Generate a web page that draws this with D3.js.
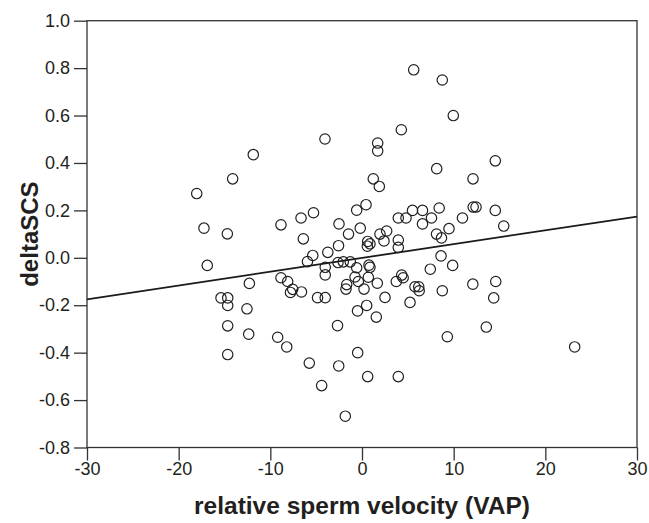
<!DOCTYPE html>
<html>
<head>
<meta charset="utf-8">
<script src="https://cdn.jsdelivr.net/npm/d3@7/dist/d3.min.js"></script>
<style>
  html, body { margin: 0; padding: 0; background: #fff; }
  svg { display: block; }
  text { font-family: "Liberation Sans", Arial, sans-serif; fill: #231f20; }
</style>
</head>
<body>
<svg id="chart" width="649" height="523"></svg>
<script>
// relative sperm velocity (VAP)
const velocity = [
  5.64, 8.76, 9.96, 4.29, -4.04, 1.71, 1.71, -11.86, 14.54, 8.15,
  -14.11, 1.23, 12.11, 1.89, -18.03, 0.44, -0.58, -5.29, -6.65, -2.51,
  -0.19, -1.47, -6.40, -8.84, -17.24, -14.69, 3.96, 4.80, 5.51, 6.60,
  8.42, 7.58, 6.60, 10.96, 12.13, 12.44, 14.54, 15.46, 9.49, 8.13,
  8.67, 1.96, 2.69, 2.40, 3.96, 3.96, 0.62, 0.87, 0.58, -2.56,
  -3.73, -5.37, -5.95, -2.62, -2.04, -1.28, -0.58, 0.76, -4.01, -4.01,
  -16.88, 8.62, 9.89, 7.45, 4.33, 4.49, 3.74, 5.78, 6.19, 6.24,
  8.76, 12.09, 14.59, 14.37, 5.24, 2.51, 1.67, 0.69, 0.22, -0.76,
  -0.40, -1.67, -1.75, -4.85, -4.01, -6.60, -7.56, -7.80, -8.11, -8.84,
  -12.29, -15.38, -14.65, -14.65, -12.55, 0.51, -0.49, 1.56, -14.65, -12.36,
  -9.20, -8.21, -2.67, -14.65, -5.75, -2.54, -0.47, 0.62, 3.96, -4.40,
  -1.82, 9.31, 13.56, 23.20, 0.87
];
// deltaSCS
const deltaSCS = [
  0.793, 0.750, 0.600, 0.540, 0.501, 0.484, 0.451, 0.435, 0.409, 0.376,
  0.333, 0.333, 0.333, 0.301, 0.271, 0.224, 0.201, 0.190, 0.168, 0.143,
  0.125, 0.100, 0.080, 0.139, 0.125, 0.101, 0.168, 0.168, 0.200, 0.200,
  0.210, 0.168, 0.143, 0.168, 0.214, 0.214, 0.200, 0.134, 0.123, 0.100,
  0.084, 0.100, 0.113, 0.071, 0.075, 0.044, 0.069, 0.059, 0.049, 0.051,
  0.023, 0.010, -0.016, -0.020, -0.017, -0.017, -0.042, -0.031, -0.040, -0.072,
  -0.032, 0.008, -0.032, -0.048, -0.073, -0.084, -0.100, -0.122, -0.122, -0.139,
  -0.139, -0.111, -0.100, -0.169, -0.188, -0.167, -0.107, -0.082, -0.132, -0.081,
  -0.100, -0.113, -0.132, -0.168, -0.168, -0.144, -0.133, -0.146, -0.100, -0.084,
  -0.108, -0.169, -0.169, -0.201, -0.215, -0.201, -0.224, -0.250, -0.287, -0.322,
  -0.335, -0.376, -0.286, -0.408, -0.444, -0.456, -0.400, -0.501, -0.501, -0.539,
  -0.668, -0.333, -0.292, -0.376, -0.040
];
// fitted regression line end points
const fitX = [-30, 30];
const fitY = [-0.175, 0.174];
// ticks
const xTicks = [-30, -20, -10, 0, 10, 20, 30];
const yTicks = [-0.8, -0.6, -0.4, -0.2, 0.0, 0.2, 0.4, 0.6, 0.8, 1.0];
const xLabel = "relative sperm velocity (VAP)";
const yLabel = "deltaSCS";

const svg = d3.select("#chart");
const mLeft = 87, mTop = 20.7, mRight = 637, mBottom = 447.5;

const x = d3.scaleLinear().domain([-30, 30]).range([mLeft, mRight]);
const y = d3.scaleLinear().domain([-0.8, 1.0]).range([mBottom, mTop]);

const axisColor = "#333";
const hyphen = f => d => f(d).replace("\u2212", "-");

// frame
svg.append("rect")
  .attr("x", mLeft).attr("y", mTop)
  .attr("width", mRight - mLeft).attr("height", mBottom - mTop)
  .attr("fill", "none").attr("stroke", axisColor).attr("stroke-width", 1.3);

// axes
const xAxis = svg.append("g")
  .attr("transform", `translate(0,${mBottom})`)
  .call(d3.axisBottom(x).tickValues(xTicks).tickSize(13).tickSizeOuter(0).tickPadding(2)
    .tickFormat(hyphen(d3.format("d"))));
const yAxis = svg.append("g")
  .attr("transform", `translate(${mLeft},0)`)
  .call(d3.axisLeft(y).tickValues(yTicks).tickSize(13).tickSizeOuter(0).tickPadding(4)
    .tickFormat(hyphen(d3.format(".1f"))));

[xAxis, yAxis].forEach(g => {
  g.select(".domain").remove();
  g.selectAll(".tick line").attr("stroke", axisColor).attr("stroke-width", 1.3);
  g.selectAll(".tick text").attr("font-size", 18).attr("fill", "#231f20")
    .style("font-family", "'Liberation Sans', Arial, sans-serif");
});

// regression line
const fitData = fitX.map((v, i) => ({ x: v, y: fitY[i] }));
svg.append("path")
  .datum(fitData)
  .attr("d", d3.line().x(d => x(d.x)).y(d => y(d.y)))
  .attr("fill", "none").attr("stroke", "#1a1a1a").attr("stroke-width", 1.8);

// points
const pts = velocity.map((v, i) => ({ x: v, y: deltaSCS[i] }));
svg.append("g").selectAll("circle")
  .data(pts).join("circle")
  .attr("cx", d => x(d.x)).attr("cy", d => y(d.y))
  .attr("r", 5.2)
  .attr("fill", "none").attr("stroke", "#231f20").attr("stroke-width", 1.2);

// axis titles
svg.append("text")
  .attr("x", (mLeft + mRight) / 2).attr("y", 514)
  .attr("text-anchor", "middle")
  .attr("font-size", 24.5).attr("font-weight", "bold")
  .text(xLabel);
svg.append("text")
  .attr("transform", `translate(38,${(mTop + mBottom) / 2}) rotate(-90)`)
  .attr("text-anchor", "middle")
  .attr("font-size", 24).attr("font-weight", "bold")
  .text(yLabel);
</script>
</body>
</html>
